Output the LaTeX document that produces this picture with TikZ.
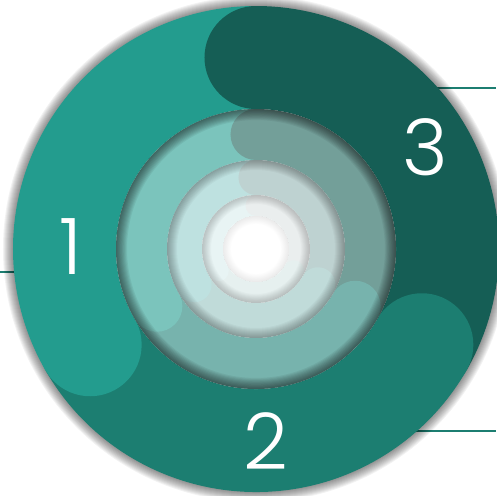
\documentclass[tikz,border=0pt]{standalone}
\usepackage{fontspec}
\setmainfont{Poppins Light}
\definecolor{bandA}{HTML}{239C8E}
\definecolor{bandB}{HTML}{1C7E71}
\definecolor{bandC}{HTML}{155E55}
\definecolor{midA}{HTML}{7BC4BC}
\definecolor{midB}{HTML}{77B3AD}
\definecolor{midC}{HTML}{739F99}
\definecolor{paleA}{HTML}{BEE1E0}
\definecolor{paleB}{HTML}{C0DBD9}
\definecolor{paleC}{HTML}{BED2D1}
\definecolor{mistA}{HTML}{E8F4F4}
\definecolor{mistB}{HTML}{E6F0EF}
\definecolor{mistC}{HTML}{EAEEEE}
\begin{document}
\begin{tikzpicture}[
    x=1pt, y=1pt,
    outer radius/.store in=\outrad, outer radius=243,
    shade op/.store in=\shadeop, shade op=0.05,
    numeral/.style={text=white, font=\fontsize{78}{78}\selectfont},
    lead/.style={draw=bandB, line width=2pt}
]
\useasboundingbox (-256,-247) rectangle (240,249);

% Helper macro for one ring of three bands with rounded heads
\newcommand{\bandring}[5]{% r in, r out, colour 1, colour 2, colour 3
    \fill[#3] (90:#2) arc[start angle=90, end angle=210, radius=#2]
        -- (210:#1) arc[start angle=210, end angle=90, radius=#1] -- cycle;
    \fill[#4] (210:#2) arc[start angle=210, end angle=330, radius=#2]
        -- (330:#1) arc[start angle=330, end angle=210, radius=#1] -- cycle;
    \fill[#5] (330:#2) arc[start angle=330, end angle=450, radius=#2]
        -- (450:#1) arc[start angle=450, end angle=330, radius=#1] -- cycle;
    \fill[#3] (210:{(#1+#2)/2}) circle[radius={(#2-#1)/2}];
    \fill[#4] (330:{(#1+#2)/2}) circle[radius={(#2-#1)/2}];
    \fill[#5] (90:{(#1+#2)/2}) circle[radius={(#2-#1)/2}];
}

% Helper macro for the shadow inside a rim
\newcommand{\innershade}[3]{% radius, opacity, step
    \begin{scope}
        \clip (0,0) circle[radius=#1];
        \foreach \k in {1,...,10}
            \draw[black, opacity=#2, line width=\k*#3 pt] (0,0) circle[radius=#1];
    \end{scope}
}

% Leader lines behind the disc
\coordinate (leadA) at (-230,-23);
\coordinate (edgeA) at (-256,-23);
\coordinate (leadB) at (150,-182);
\coordinate (edgeB) at (240,-182);
\coordinate (leadC) at (170,161);
\coordinate (edgeC) at (240,161);
\draw[lead] (leadA) -- (edgeA);
\draw[lead] (leadB) -- (edgeB);
\draw[lead] (leadC) -- (edgeC);

% Drop shadow of the disc
\foreach \w in {2,4,...,20}
    \draw[black, opacity=\shadeop] (0,0) circle[radius=\outrad] [line width=\w pt];

% Outer ring
\bandring{140}{\outrad}{bandA}{bandB}{bandC}

% Inner rings
\bandring{89}{140}{midA}{midB}{midC}
\innershade{140}{0.06}{2.2}
\bandring{54}{89}{paleA}{paleB}{paleC}
\innershade{89}{0.03}{2}
\bandring{33}{54}{mistA}{mistB}{mistC}
\innershade{54}{0.02}{1.8}
\fill[white] (0,0) circle[radius=33];
\innershade{33}{0.008}{1.6}

% Numbers
\node[numeral] (num1) at (-185,2) {1};
\node[numeral] (num2) at (9.5,-192.5) {2};
\node[numeral] (num3) at (169,102) {3};

\end{tikzpicture}
\end{document}
